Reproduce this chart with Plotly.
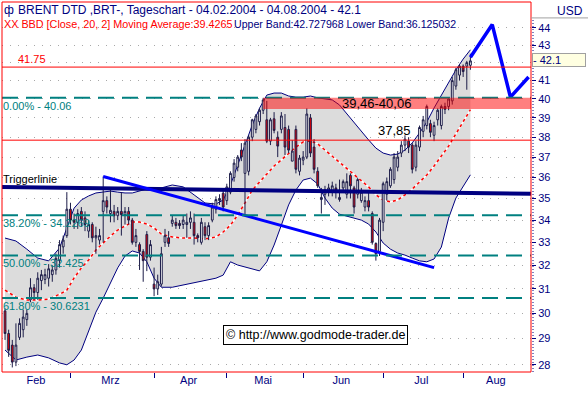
import math
import pandas as pd
import plotly.graph_objects as go

# ---------------- data ----------------
holidays = ["2004-04-09", "2004-04-12"]
dates = [d.strftime("%Y-%m-%d") for d in pd.bdate_range("2004-02-04", "2004-08-04")
         if d.strftime("%Y-%m-%d") not in holidays]

open_ = [30.10, 29.20, 28.75, 28.10, 29.05, 29.35, 29.75, 30.55, 31.05, 30.85,
         31.35, 31.40, 31.45, 31.60, 31.80, 32.20, 32.80, 33.30, 34.50, 34.00,
         33.90, 34.40, 34.10, 33.50, 33.80, 33.20, 33.10, 34.40, 34.90, 34.30,
         34.40, 34.20, 34.40, 34.25, 34.40, 34.00, 33.00, 32.90, 32.60, 33.35,
         32.35, 31.20, 31.00, 31.20, 33.00, 33.20, 33.85, 33.90, 33.85, 33.80,
         33.80, 33.90, 33.90, 33.30, 33.00, 33.70, 33.30, 34.00, 34.50, 34.90,
         35.25, 34.90, 35.30, 36.00, 36.50, 37.35, 36.20, 36.30, 38.00, 38.40,
         38.80, 39.40, 38.90, 37.80, 38.95, 38.00, 38.40, 38.50, 38.40, 36.80,
         38.40, 36.30, 36.85, 37.00, 39.00, 37.50, 36.30, 34.95, 35.20, 35.30,
         35.30, 35.50, 34.95, 35.50, 35.20, 36.10, 35.50, 35.20, 34.90, 34.60,
         34.90, 34.30, 32.95, 32.60, 33.90, 35.20, 35.60, 35.90, 36.50, 37.20,
         37.60, 37.80, 37.60, 36.50, 37.50, 38.30, 38.60, 38.70, 38.10, 38.90,
         38.60, 39.60, 39.60, 39.90, 40.70, 41.30, 41.80, 41.80, 41.85]
high = [30.20, 29.35, 28.95, 29.60, 29.80, 30.15, 30.15, 31.45, 31.20, 31.70,
        31.80, 31.85, 32.05, 32.00, 32.50, 33.10, 33.30, 35.30, 34.80, 34.30,
        34.50, 34.60, 34.40, 34.00, 33.90, 33.70, 33.60, 36.05, 35.10, 35.40,
        34.70, 34.60, 35.30, 34.60, 34.60, 34.10, 33.60, 33.00, 32.70, 33.50,
        33.10, 31.90, 31.60, 32.80, 33.60, 33.50, 34.20, 34.10, 34.00, 34.20,
        34.30, 34.40, 34.30, 33.40, 34.10, 33.90, 33.90, 34.80, 35.10, 35.20,
        35.40, 35.70, 36.30, 36.90, 37.10, 37.70, 37.90, 38.10, 38.95, 39.20,
        39.50, 40.06, 39.90, 39.00, 39.30, 38.30, 39.30, 39.20, 38.60, 37.85,
        38.60, 37.10, 37.30, 39.50, 39.20, 37.90, 36.50, 35.50, 35.60, 35.70,
        35.80, 35.70, 35.90, 35.90, 36.20, 36.20, 35.60, 36.00, 35.50, 35.10,
        35.30, 34.40, 33.00, 34.10, 35.80, 36.00, 36.50, 37.20, 37.30, 37.80,
        38.10, 38.00, 37.70, 37.80, 38.60, 39.10, 39.70, 38.90, 38.80, 39.50,
        39.70, 39.80, 40.10, 41.20, 41.70, 41.90, 41.90, 42.10, 42.50]
low = [28.95, 28.30, 27.90, 27.95, 28.95, 29.05, 29.50, 30.45, 30.55, 30.55,
       30.95, 31.20, 31.10, 31.30, 31.60, 31.90, 32.50, 33.20, 33.80, 33.60,
       33.60, 33.70, 33.50, 33.20, 33.00, 32.50, 32.90, 33.00, 34.30, 33.90,
       33.90, 34.00, 33.30, 33.80, 33.80, 32.90, 32.80, 31.80, 31.30, 31.75,
       32.20, 30.70, 30.75, 31.10, 32.80, 32.80, 33.70, 33.60, 33.60, 33.60,
       33.20, 33.60, 32.90, 33.00, 32.90, 33.10, 33.10, 33.90, 34.30, 34.70,
       34.40, 34.70, 35.20, 35.80, 36.30, 36.80, 34.20, 36.10, 37.80, 38.20,
       38.60, 39.20, 37.70, 37.60, 38.20, 37.00, 38.20, 37.10, 37.20, 36.80,
       36.20, 36.10, 36.60, 36.90, 37.00, 36.20, 35.50, 34.30, 34.70, 35.10,
       35.10, 35.00, 34.85, 35.30, 35.00, 35.00, 34.30, 35.00, 34.80, 34.40,
       34.40, 32.90, 32.20, 32.40, 33.50, 34.90, 35.50, 35.70, 36.30, 37.00,
       37.30, 37.20, 36.20, 36.30, 37.30, 38.00, 38.40, 38.00, 37.80, 38.60,
       38.40, 39.20, 39.40, 39.70, 40.50, 41.00, 41.20, 40.50, 41.60]
close = [29.20, 28.55, 28.10, 28.75, 29.60, 29.85, 30.00, 31.05, 30.85, 31.45,
         31.60, 31.60, 31.85, 31.80, 32.30, 32.90, 33.10, 34.50, 34.00, 33.90,
         34.30, 34.00, 33.80, 33.80, 33.20, 33.30, 33.30, 34.90, 34.60, 34.45,
         34.20, 34.40, 34.25, 34.40, 34.00, 33.00, 33.30, 32.60, 32.20, 32.35,
         32.90, 31.00, 31.30, 32.50, 33.30, 32.95, 34.00, 33.75, 33.75, 34.00,
         33.90, 34.10, 33.30, 33.20, 33.90, 33.30, 33.75, 34.60, 34.95, 35.00,
         34.60, 35.55, 36.20, 36.70, 37.00, 37.00, 37.70, 38.00, 38.90, 39.10,
         39.40, 39.95, 37.80, 38.90, 38.35, 37.55, 39.10, 37.50, 37.35, 37.30,
         36.40, 36.95, 37.00, 39.20, 37.20, 36.40, 35.60, 35.05, 35.40, 35.50,
         35.60, 35.40, 35.05, 35.80, 35.80, 35.60, 34.60, 35.90, 35.30, 34.90,
         34.60, 33.00, 32.50, 34.00, 35.70, 35.80, 36.40, 37.00, 37.00, 37.60,
         37.90, 37.50, 36.40, 37.60, 38.50, 38.90, 39.60, 38.25, 38.60, 39.40,
         39.60, 39.45, 40.00, 41.00, 41.60, 41.80, 41.50, 42.00, 42.10]

# Bollinger band (20, 2) read at sampled trading days (index into dates)
band_idx = [0, 3, 6, 9, 12, 15, 17, 19, 21, 23, 25, 27, 29, 31, 33, 35, 37, 39, 41, 43,
            46, 49, 52, 55, 58, 60, 62, 64, 66, 68, 70, 72, 74, 76, 78, 80, 82, 84, 86, 88,
            90, 92, 95, 98, 100, 102, 104, 106, 108, 110, 112, 114, 116, 118, 120, 122, 124, 126, 128]
band_upper = [33.19, 33.06, 32.70, 32.31, 32.19, 32.75, 33.64, 34.55, 34.93, 35.12,
              35.26, 35.30, 35.35, 35.30, 35.26, 35.26, 35.35, 35.45, 35.45, 35.50,
              35.64, 35.55, 35.17, 34.79, 34.74, 34.93, 35.64, 36.61, 37.60, 38.63,
              39.51, 40.21, 40.32, 40.32, 40.16, 40.10, 40.10, 40.16, 40.06, 40.00,
              39.95, 39.68, 38.99, 38.27, 37.86, 37.45, 37.20, 37.10, 37.15, 37.35,
              37.71, 38.22, 38.78, 39.52, 40.21, 40.92, 41.59, 42.20, 42.73]
band_lower = [28.56, 28.18, 28.29, 28.37, 28.26, 28.07, 28.00, 28.18, 28.56, 29.26,
              30.05, 30.62, 31.24, 31.89, 32.40, 32.62, 32.53, 32.15, 31.45, 31.07,
              31.07, 31.16, 31.24, 31.33, 31.45, 31.58, 32.15, 32.01, 31.93, 31.84,
              31.76, 32.15, 32.88, 33.77, 34.70, 35.40, 35.88, 35.97, 35.69, 35.02,
              34.55, 34.27, 34.14, 34.00, 33.82, 33.46, 32.97, 32.70, 32.53, 32.44,
              32.31, 32.19, 32.15, 32.27, 32.79, 34.09, 35.02, 35.59, 36.13]
band_mid = [30.95, 30.66, 30.54, 30.54, 30.58, 30.78, 30.95, 31.46, 31.89, 32.23,
            32.66, 32.97, 33.28, 33.55, 33.73, 33.91, 33.91, 33.82, 33.64, 33.37,
            33.24, 33.19, 33.19, 33.15, 33.24, 33.46, 33.77, 34.23, 34.79, 35.40,
            35.78, 36.16, 36.56, 36.86, 37.20, 37.50, 37.76, 37.81, 37.66, 37.35,
            37.05, 36.76, 36.26, 35.83, 35.55, 35.17, 34.93, 34.84, 34.93, 35.17,
            35.45, 35.78, 36.12, 36.56, 37.05, 37.55, 38.17, 38.78, 39.43]
band_dates = [dates[i] for i in band_idx]

# drawn lines
trigger_values = [35.55, 35.22]          # left edge -> right edge
trend_dates = ["2004-03-12", "2004-07-21"]
trend_values = [36.05, 31.90]
forecast_dates = ["2004-08-04", "2004-08-12", "2004-08-19", "2004-08-26"]
forecast_values = [42.30, 44.20, 40.10, 41.20]

fib_levels = [40.06, 34.2269, 32.425, 30.6231]
fib_labels = ["0.00% - 40.06", "38.20% - 34.2269", "50.00% - 32.425", "61.80% - 30.6231"]
red_levels = [41.75, 37.85]
zone = [39.46, 40.06]
zone_start = "2004-05-17"

month_names = {2: "Feb", 3: "Mrz", 4: "Apr", 5: "Mai", 6: "Jun", 7: "Jul", 8: "Aug"}
price_ticks = list(range(28, 45))
last_price = 42.1

# ---------------- trading-day calendar (x axis) ----------------
calendar = [d.strftime("%Y-%m-%d") for d in pd.bdate_range("2004-02-02", "2004-08-31")
            if d.strftime("%Y-%m-%d") not in holidays]
pos = {d: calendar.index(d) - calendar.index(dates[0]) for d in calendar}
x_range = [-0.83, 144.66]
y_range = [math.log10(27.73), math.log10(45.56)]

def X(ds):
    return [pos[d] for d in ds]

month_starts, month_mid, month_txt = [], [], []
for m, name in month_names.items():
    idx = [pos[d] for d in calendar if int(d[5:7]) == m and x_range[0] <= pos[d] <= x_range[1]]
    month_mid.append((min(idx) + max(idx)) / 2.0)
    month_txt.append(name)
    if m > 2:
        month_starts.append(min(idx))

# ---------------- figure ----------------
NAVY = "#000080"
TEAL = "#008080"
FONT = "Liberation Sans, Arial, sans-serif"
L = math.log10

fig = go.Figure()
# base layer: Bollinger band
fig.add_trace(go.Scatter(x=X(band_dates), y=band_upper, mode="lines",
                         line=dict(color=NAVY, width=1), hoverinfo="skip"))
fig.add_trace(go.Scatter(x=X(band_dates), y=band_lower, mode="lines", fill="tonexty",
                         fillcolor="#DCDCDC", line=dict(color=NAVY, width=1), hoverinfo="skip"))
fig.add_trace(go.Scatter(x=X(band_dates), y=band_mid, mode="lines",
                         line=dict(color="white", width=1.5), hoverinfo="skip"))
fig.add_trace(go.Scatter(x=X(band_dates), y=band_mid, mode="lines",
                         line=dict(color="#FF0000", width=1.5, dash="3px,3px"), hoverinfo="skip"))
# overlay layer: candles and drawn lines
fig.add_trace(go.Candlestick(
    x=X(dates), open=open_, high=high, low=low, close=close, whiskerwidth=0,
    text=dates, xaxis="x2", yaxis="y2",
    increasing=dict(line=dict(color="#1C1C48", width=1), fillcolor="white"),
    decreasing=dict(line=dict(color="#1C1C48", width=1), fillcolor="#F00000")))
fig.add_trace(go.Scatter(x=x_range, y=trigger_values, mode="lines", xaxis="x2", yaxis="y2",
                         line=dict(color=NAVY, width=4)))
fig.add_trace(go.Scatter(x=X(trend_dates), y=trend_values, mode="lines", xaxis="x2", yaxis="y2",
                         line=dict(color="#0000FF", width=3)))
fig.add_trace(go.Scatter(x=X(forecast_dates), y=forecast_values, mode="lines",
                         xaxis="x2", yaxis="y2", line=dict(color="#0000FF", width=3.5)))

shapes = []
for lv in red_levels:
    shapes.append(dict(type="line", xref="paper", x0=0, x1=1, yref="y", y0=lv, y1=lv,
                       line=dict(color="#FF0000", width=1), layer="above"))
for lv in fib_levels:
    shapes.append(dict(type="line", xref="paper", x0=0, x1=1, yref="y", y0=lv, y1=lv,
                       line=dict(color=TEAL, width=2, dash="16px,8px"), layer="above"))
shapes.append(dict(type="rect", xref="x", x0=pos[zone_start], x1=x_range[1], yref="y",
                   y0=zone[0], y1=zone[1], fillcolor="rgba(255,0,0,0.5)",
                   line=dict(width=0), layer="above"))
shapes.append(dict(type="rect", xref="paper", yref="paper", x0=0, x1=1, y0=0, y1=1,
                   line=dict(color="#FF0000", width=1), layer="above"))
shapes.append(dict(type="line", xref="paper", yref="paper", x0=1.0038, x1=1.0038, y0=0, y1=0.957,
                   line=dict(color=NAVY, width=1, dash="1px,2px")))
shapes.append(dict(type="line", xref="paper", yref="paper", x0=1.0, x1=1.11, y0=0.957, y1=0.957,
                   line=dict(color="#A0A0A0", width=1)))

def px_x(px):
    return (px - 2) / 529.0

def px_y(py):
    return (372 - py) / 370.0

ann = []
ann.append(dict(text="ф", xref="paper", yref="paper", x=px_x(2), y=px_y(10), xanchor="left",
                yanchor="middle", showarrow=False, font=dict(color=NAVY, size=12)))
ann.append(dict(text="BRENT DTD ,BRT-, Tageschart - 04.02.2004 - 04.08.2004 - 42.1",
                xref="paper", yref="paper", x=px_x(16), y=px_y(10), xanchor="left",
                yanchor="middle", showarrow=False, font=dict(color=NAVY, size=12)))
ann.append(dict(text="XX BBD [Close, 20, 2] Moving Average:39.4265",
                xref="paper", yref="paper", x=px_x(2), y=px_y(24), xanchor="left",
                yanchor="middle", showarrow=False, font=dict(color="#FF0000", size=10.8)))
ann.append(dict(text="Upper Band:42.727968 Lower Band:36.125032",
                xref="paper", yref="paper", x=px_x(232), y=px_y(24), xanchor="left",
                yanchor="middle", showarrow=False, font=dict(color=NAVY, size=10.6)))
ann.append(dict(text="41.75", xref="paper", x=px_x(16), xanchor="left", yref="y", y=L(41.75),
                yanchor="bottom", showarrow=False, font=dict(color="#FF0000", size=11)))
for lv, lab in zip(fib_levels, fib_labels):
    ann.append(dict(text=lab, xref="paper", x=px_x(1), xanchor="left", yref="y", y=L(lv),
                    yanchor="top", showarrow=False, font=dict(color=TEAL, size=11)))
ann.append(dict(text="Triggerlinie", xref="paper", x=px_x(1), xanchor="left", yref="y",
                y=L(trigger_values[0]), yanchor="bottom", showarrow=False,
                font=dict(color="black", size=11)))
ann.append(dict(text="37,85", xref="paper", x=px_x(376), xanchor="left", yref="y",
                y=L(red_levels[1]), yanchor="bottom", showarrow=False,
                font=dict(color="black", size=13)))
ann.append(dict(text="39,46-40,06", xref="paper", x=px_x(376), xanchor="center", yref="y",
                y=L(math.sqrt(zone[0] * zone[1])), yanchor="middle", showarrow=False,
                font=dict(color="black", size=13)))
ann.append(dict(text="© http://www.godmode-trader.de", xref="paper", yref="paper",
                x=px_x(315), y=px_y(334.5), xanchor="center", yanchor="middle", showarrow=False,
                bgcolor="white", bordercolor="black", borderwidth=1, borderpad=2,
                font=dict(color="black", size=12.5)))
ann.append(dict(text="USD", xref="paper", yref="paper", x=px_x(585), y=px_y(11),
                xanchor="right", yanchor="middle", showarrow=False,
                font=dict(color=NAVY, size=12)))
ann.append(dict(text="- " + str(last_price), xref="paper", x=px_x(532), xanchor="left",
                yref="y", y=L(42.15), yanchor="middle", showarrow=False, align="left",
                width=52, height=12, bgcolor="#FFFFE1", bordercolor="#A0A0A0", borderwidth=1,
                borderpad=0, font=dict(color=NAVY, size=11)))

fig.update_layout(
    width=588, height=395, margin=dict(l=2, r=57, t=2, b=23, autoexpand=False),
    paper_bgcolor="white", plot_bgcolor="white", showlegend=False, hovermode=False,
    font=dict(family=FONT, size=11, color=NAVY),
    shapes=shapes, annotations=ann,
    xaxis=dict(type="linear", range=x_range,
               tickmode="array", tickvals=month_mid, ticktext=month_txt, ticks="",
               showgrid=False, zeroline=False, showline=False,
               tickfont=dict(size=11, color=NAVY), rangeslider=dict(visible=False),
               minor=dict(tickmode="array", tickvals=month_starts, ticks="outside", ticklen=5,
                          tickcolor=NAVY, showgrid=False)),
    yaxis=dict(type="log", range=y_range, side="right",
               tickmode="array", tickvals=price_ticks,
               ticktext=["" if v == 42 else str(v) for v in price_ticks],
               ticks="outside", ticklen=4, tickcolor=NAVY,
               showgrid=True, gridcolor="#A8A8A8", griddash="1px,7px", gridwidth=1,
               zeroline=False, showline=False, tickfont=dict(size=11, color=NAVY)),
    xaxis2=dict(type="linear", range=x_range, overlaying="x", visible=False,
                rangeslider=dict(visible=False)),
    yaxis2=dict(type="log", range=y_range, overlaying="y", visible=False),
)

fig.write_html("out.html", config={"displayModeBar": False},
               post_script="document.body.style.margin='0px';")
